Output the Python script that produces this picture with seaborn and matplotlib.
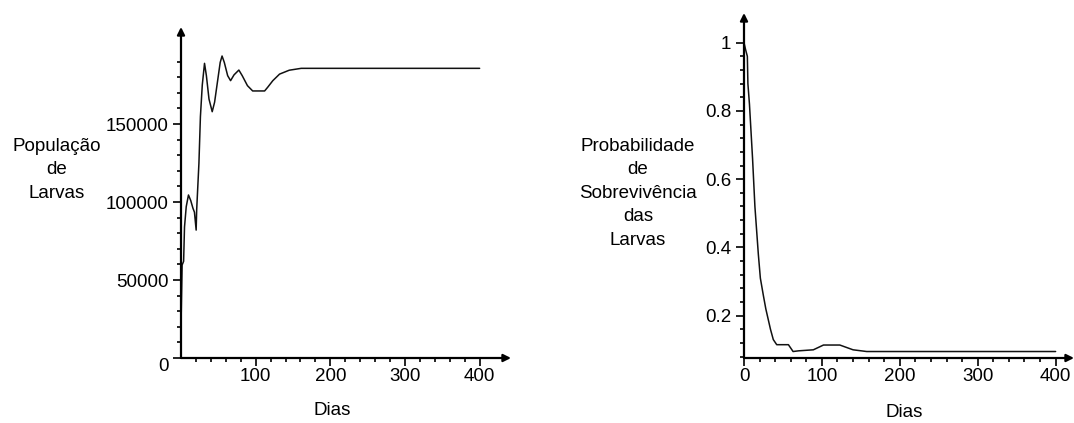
import numpy as np
import pandas as pd
import matplotlib
matplotlib.use("Agg")
import matplotlib.pyplot as plt
from matplotlib.ticker import FixedLocator
import seaborn as sns

# Larval population over time (days)
pop_days = [0, 1.5, 3.5, 4.7, 7, 10, 13, 16, 18, 20.3, 21, 24, 26, 28.5, 31.5, 34,
            37.5, 41.8, 45, 50, 52.5, 55, 58, 62.5, 66.4, 71, 77.5, 82, 89, 96,
            112, 116, 123, 132, 145, 161, 400]
pop_values = [20500, 59600, 62000, 84000, 97000, 104500, 101000, 96000, 93500,
              82000, 95000, 124800, 154700, 175000, 188900, 181000, 166000,
              157900, 164000, 181000, 189500, 193600, 189500, 181000, 177800,
              181500, 184600, 181000, 174600, 171200, 171200, 173500, 177800,
              182000, 184500, 185700, 185700]

# Larval survival probability over time (days)
surv_days = [0, 2, 4.3, 5, 7, 9, 11, 14, 18.4, 21, 24.8, 28, 31, 34, 37.6, 42,
             57, 63, 70, 89, 102, 123, 140, 157.5, 400]
surv_values = [1.0, 0.98, 0.96, 0.88, 0.82, 0.74, 0.66, 0.52, 0.38, 0.31, 0.26,
               0.22, 0.19, 0.16, 0.13, 0.115, 0.115, 0.095, 0.097, 0.10, 0.114,
               0.114, 0.10, 0.095, 0.095]

pop_yticks = [0, 50000, 100000, 150000]
pop_xticks = [100, 200, 300, 400]
surv_yticks = [0.2, 0.4, 0.6, 0.8, 1.0]
surv_ytick_labels = ["0.2", "0.4", "0.6", "0.8", "1"]
surv_xticks = [0, 100, 200, 300, 400]

sns.set_theme(style="white")
plt.rcParams["font.family"] = ["Liberation Sans", "DejaVu Sans"]
plt.rcParams["text.color"] = "black"
plt.rcParams["axes.labelcolor"] = "black"

W, H = 1074, 423
FS = 13.5
fig = plt.figure(figsize=(W / 100, H / 100), dpi=100)
fig.patch.set_facecolor("white")


def px_axes(x0, x1, ytop, ybot):
    return fig.add_axes([x0 / W, (H - ybot) / H, (x1 - x0) / W, (ybot - ytop) / H])


def style_axis(ax):
    for s in ax.spines.values():
        s.set_visible(False)
    ax.set_facecolor("none")
    ax.tick_params(axis="both", which="major", direction="out", length=6,
                   width=1.2, color="black", labelsize=FS, labelcolor="black")
    ax.tick_params(axis="x", which="major", pad=1.5)
    ax.tick_params(axis="y", which="major", pad=3)
    ax.tick_params(axis="both", which="minor", direction="out", length=3,
                   width=1.2, color="black")
    ax.tick_params(axis="x", which="both", bottom=True)
    ax.tick_params(axis="y", which="both", left=True)
    arrow = dict(arrowstyle="-|>", color="black", lw=1.6, mutation_scale=11,
                 shrinkA=0, shrinkB=0)
    ax.annotate("", xy=(1, 0), xytext=(0, 0), xycoords="axes fraction",
                textcoords="axes fraction", arrowprops=arrow, annotation_clip=False)
    ax.annotate("", xy=(0, 1), xytext=(0, 0), xycoords="axes fraction",
                textcoords="axes fraction", arrowprops=arrow, annotation_clip=False)


# Left panel: population
ax1 = px_axes(181, 511, 27, 358)
pop_df = pd.DataFrame({"Dias": pop_days, "Pop": pop_values})
sns.lineplot(data=pop_df, x="Dias", y="Pop", ax=ax1, color="#111111", lw=1.1,
             sort=False, estimator=None)
ax1.set_xlim(0, 442)
ax1.set_ylim(0, 212200)
style_axis(ax1)
ax1.xaxis.set_major_locator(FixedLocator(pop_xticks))
ax1.xaxis.set_minor_locator(FixedLocator(np.arange(20, 400, 20)))
ax1.yaxis.set_major_locator(FixedLocator(pop_yticks))
ax1.yaxis.set_minor_locator(FixedLocator(np.arange(10000, 200000, 10000)))
ax1.set_xticklabels([str(t) for t in pop_xticks])
ax1.set_yticklabels([str(t) for t in pop_yticks])
ax1.get_yticklabels()[0].set_verticalalignment("top")
ax1.set_ylabel("População\nde\nLarvas", rotation=0, fontsize=FS, ha="center",
               va="center", linespacing=1.5)
ax1.yaxis.set_label_coords(-0.376, 0.568)
ax1.set_xlabel("Dias", fontsize=FS, va="center")
ax1.xaxis.set_label_coords(0.458, -0.16)

# Right panel: survival probability
ax2 = px_axes(744, 1074, 13, 358)
surv_df = pd.DataFrame({"Dias": surv_days, "Prob": surv_values})
sns.lineplot(data=surv_df, x="Dias", y="Prob", ax=ax2, color="#111111", lw=1.1,
             sort=False, estimator=None)
ax2.set_xlim(0, 423.6)
ax2.set_ylim(0.076, 1.087)
style_axis(ax2)
ax2.xaxis.set_major_locator(FixedLocator(surv_xticks))
ax2.xaxis.set_minor_locator(FixedLocator(np.arange(20, 400, 20)))
ax2.yaxis.set_major_locator(FixedLocator(surv_yticks))
ax2.yaxis.set_minor_locator(FixedLocator(np.arange(0.08, 1.0, 0.04)))
ax2.set_xticklabels([str(t) for t in surv_xticks])
ax2.set_yticklabels(surv_ytick_labels)
ax2.set_ylabel("Probabilidade\nde\nSobrevivência\ndas\nLarvas", rotation=0,
               fontsize=FS, ha="center", va="center", linespacing=1.5)
ax2.yaxis.set_label_coords(-0.321, 0.478)
ax2.set_xlabel("Dias", fontsize=FS, va="center")
ax2.xaxis.set_label_coords(0.485, -0.159)

fig.savefig("out.png", dpi=100, facecolor="white")
